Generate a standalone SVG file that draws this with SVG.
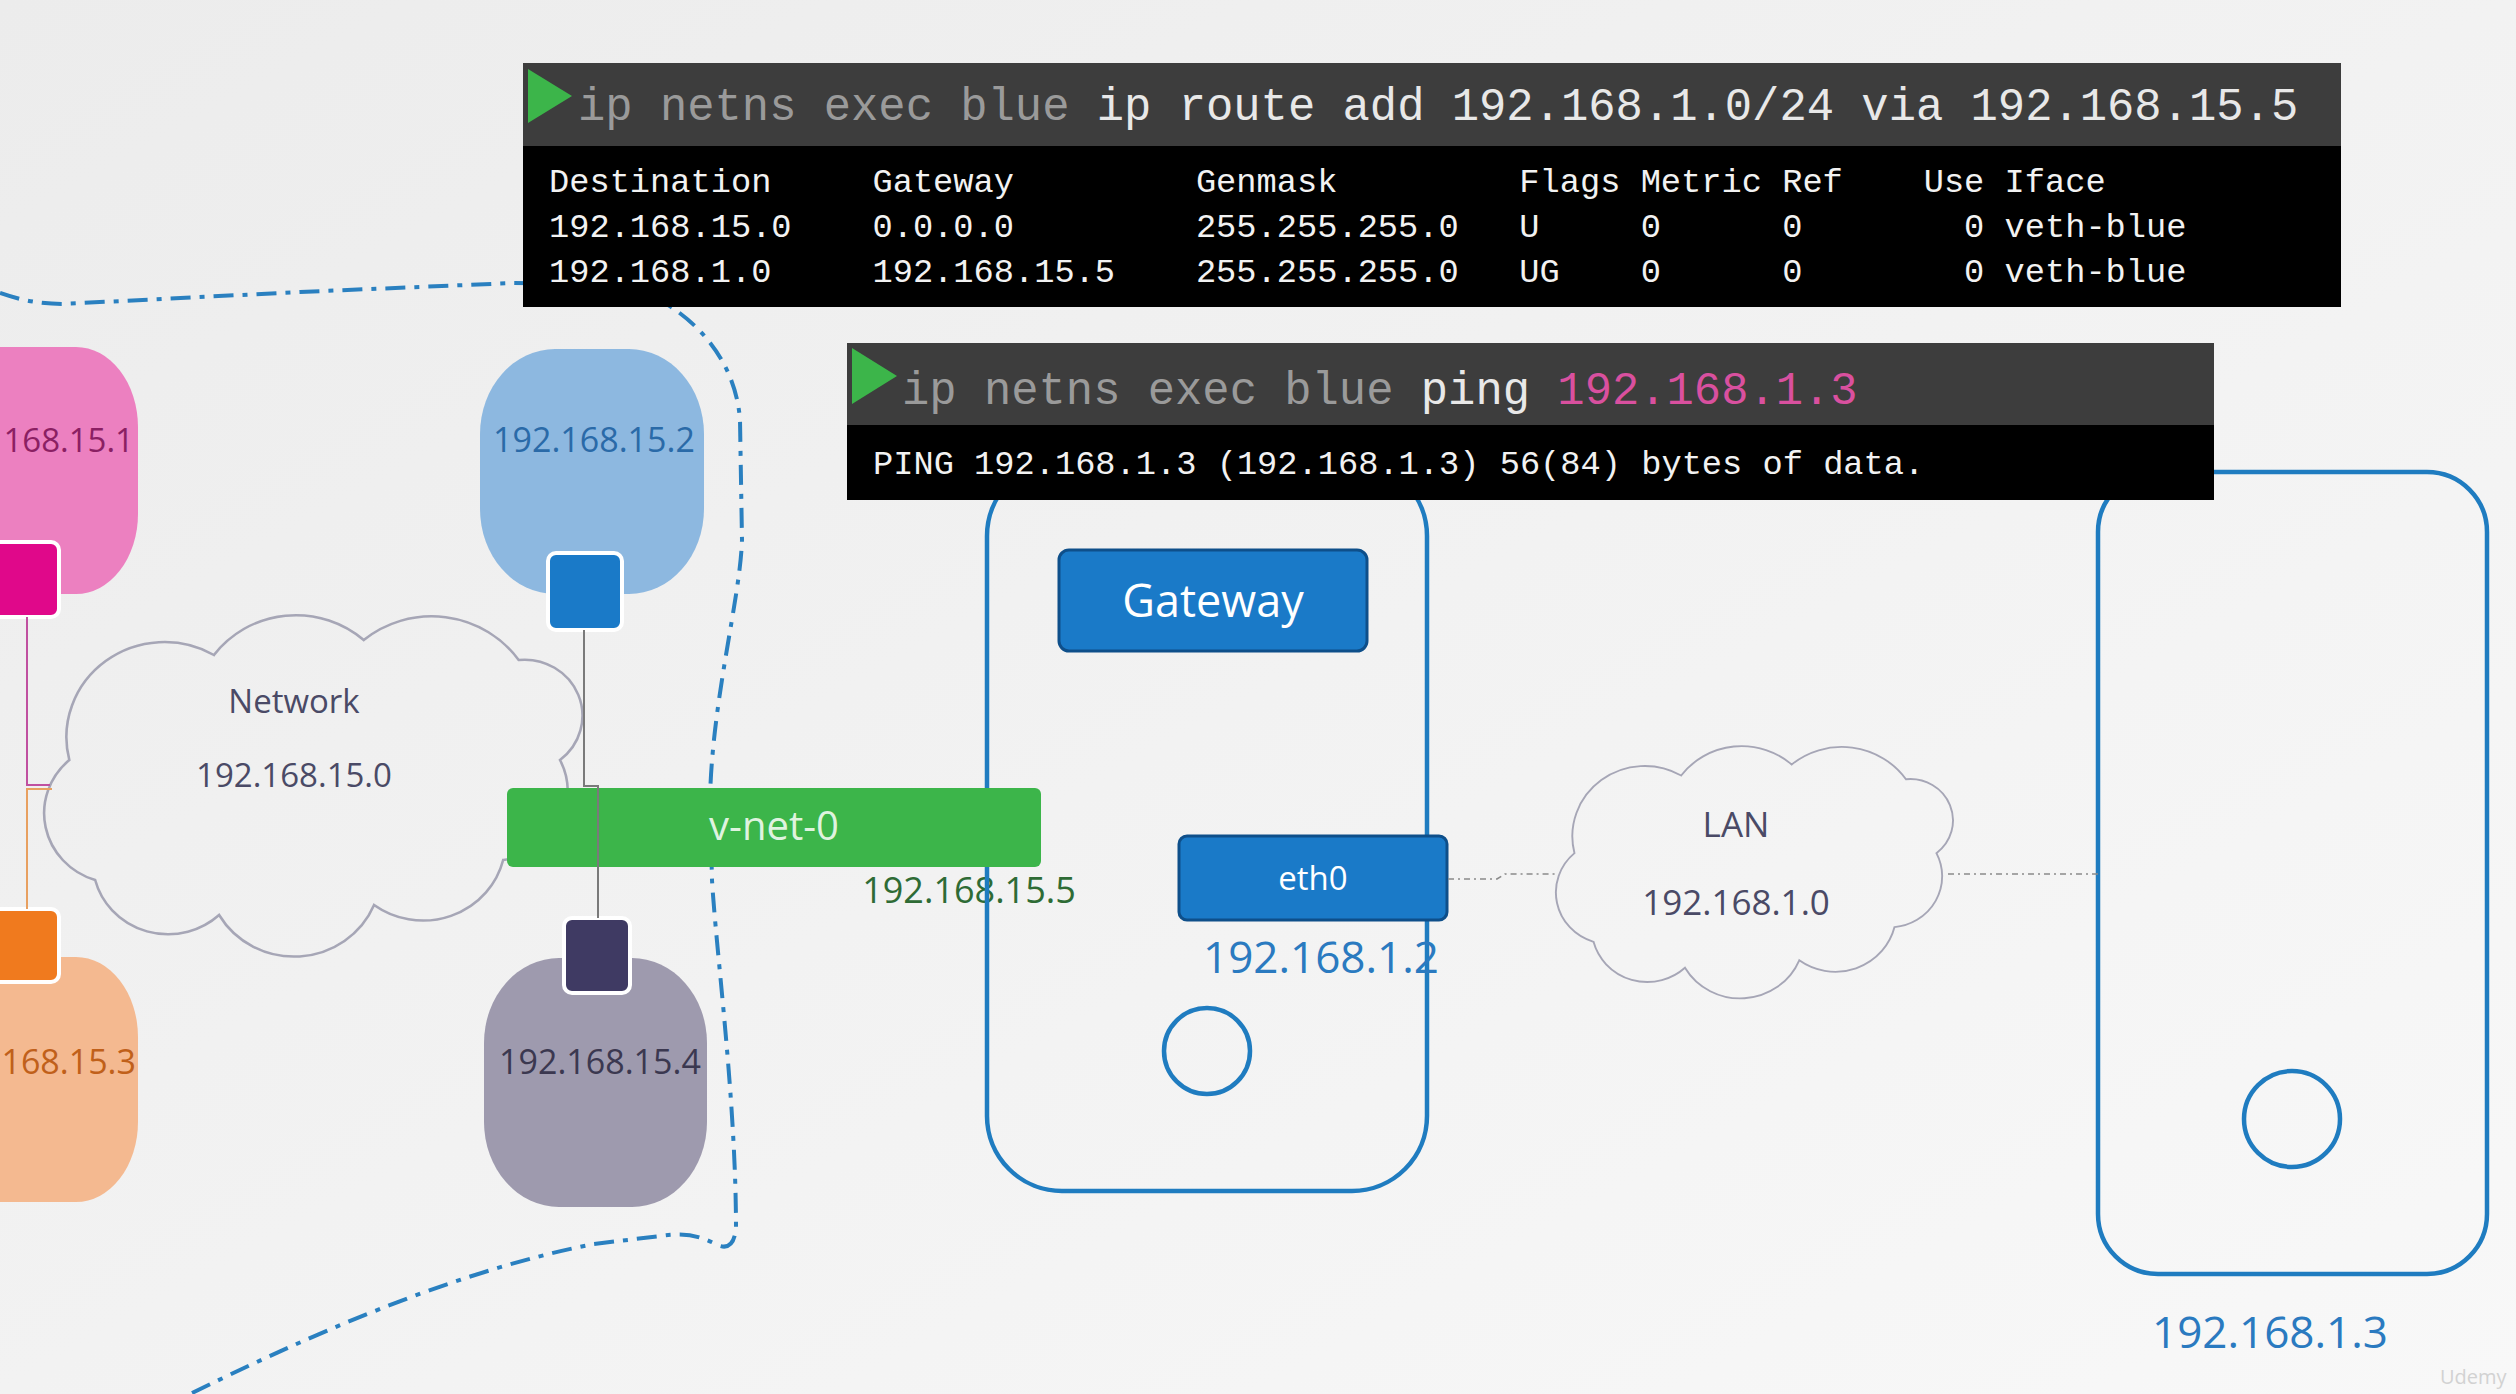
<svg xmlns="http://www.w3.org/2000/svg" width="2516" height="1394" viewBox="0 0 2516 1394">
<defs>
  <linearGradient id="bg" x1="0" y1="0" x2="1" y2="1">
    <stop offset="0" stop-color="#ececec"/>
    <stop offset="1" stop-color="#f8f8f8"/>
  </linearGradient>
  <path id="cloud" d="M 65 265 A 70 70 0 0 1 40 145 A 95 95 0 0 1 180 40 A 99 99 0 0 1 325 25 A 103 103 0 0 1 475 45 A 56 56 0 0 1 515 145 A 69 69 0 0 1 460 245 A 80 80 0 0 1 335 290 A 84 84 0 0 1 185 300 A 73 73 0 0 1 65 265 Z"/>
  <style>
    .lbl { font-family: "Open Sans", "Liberation Sans", sans-serif; }
    .mono { font-family: "Liberation Mono", "DejaVu Sans Mono", monospace; white-space: pre; }
    .cloudline { fill: none; stroke: #a6a6b6; stroke-width: 2.5; }
    .iface { stroke: #ffffff; stroke-width: 4; }
    .hostbox { fill: none; stroke: #1f7cc0; stroke-width: 4.5; }
    .btn { fill: #1a7ac8; stroke: #0e4f8a; stroke-width: 3; }
    .termhead { fill: #3d3d3d; }
    .termbody { fill: #000000; }
    .dim { fill: #9a9a9a; }
    .bright { fill: #e8e8e8; }
    .body { fill: #f2f2f2; font-size: 33.7px; }
  </style>
</defs>

<rect x="0" y="0" width="2516" height="1394" fill="url(#bg)"/>

<!-- namespace boundary (dash-dot) -->
<g id="boundary">
  <path d="M 0 293 C 20 300 40 304 62 304 L 300 292 L 513 283 L 620 284 C 680 300 735 350 740 420 L 742 540 C 740 600 712 700 710 800 L 712 880 C 716 950 736 1100 736 1228 Q 734 1250 720 1246 C 700 1236 688 1232 660 1236 L 594 1244 C 450 1272 300 1340 190 1394" fill="none" stroke="#2a80c0" stroke-width="4" stroke-dasharray="20 9 5 9"/>
</g>

<!-- pink namespace -->
<g id="node-pink">
  <rect x="-120" y="347" width="258" height="247" rx="62" ry="80" fill="#ec80c0"/>
  <text class="lbl" x="134" y="452" text-anchor="end" font-size="33" fill="#8b1f63">168.15.1</text>
  <rect class="iface" x="-8" y="542" width="67" height="75" rx="8" fill="#e0088a"/>
</g>

<!-- orange namespace -->
<g id="node-orange">
  <rect x="-120" y="957" width="258" height="245" rx="62" ry="80" fill="#f4b990"/>
  <text class="lbl" x="136" y="1074" text-anchor="end" font-size="34" fill="#c0601a">168.15.3</text>
  <rect class="iface" x="-8" y="909" width="67" height="73" rx="8" fill="#f07a1e"/>
</g>

<!-- blue namespace -->
<g id="node-blue">
  <rect x="480" y="349" width="224" height="245" rx="75" ry="85" fill="#8db8e0"/>
  <text class="lbl" x="594" y="452" text-anchor="middle" font-size="34" fill="#2a6aa8">192.168.15.2</text>
  <rect class="iface" x="548" y="553" width="74" height="77" rx="8" fill="#1a7ac8"/>
</g>

<!-- gray namespace -->
<g id="node-gray">
  <rect x="484" y="958" width="223" height="249" rx="75" ry="85" fill="#9e9aae"/>
  <text class="lbl" x="600" y="1074" text-anchor="middle" font-size="34" fill="#3b3850">192.168.15.4</text>
  <rect class="iface" x="564" y="918" width="66" height="75" rx="8" fill="#3f3a63"/>
</g>

<!-- Network cloud -->
<g id="cloud-network">
  <use href="#cloud" class="cloudline" transform="translate(28 615) scale(1.033 1)" vector-effect="non-scaling-stroke"/>
  <text class="lbl" x="294" y="713" text-anchor="middle" font-size="33" fill="#4a4a66">Network</text>
  <text class="lbl" x="294" y="787" text-anchor="middle" font-size="33" fill="#4a4a66">192.168.15.0</text>
</g>

<!-- v-net-0 address label -->
<g id="label-vnet-ip">
  <text class="lbl" x="969" y="903" text-anchor="middle" font-size="36" fill="#2e6b35">192.168.15.5</text>
</g>

<!-- Gateway host -->
<g id="node-gateway">
  <rect class="hostbox" x="987" y="461" width="440" height="730" rx="75" ry="75"/>
  <rect class="btn" x="1059" y="550" width="308" height="101" rx="10"/>
  <text class="lbl" x="1213" y="617" text-anchor="middle" font-size="45" fill="#ffffff">Gateway</text>
  <circle cx="1207" cy="1051" r="43" fill="none" stroke="#1f7cc0" stroke-width="4.5"/>
</g>

<g id="node-eth0">
  <rect class="btn" x="1179" y="836" width="268" height="84" rx="8"/>
  <text class="lbl" x="1313" y="890" text-anchor="middle" font-size="33" fill="#ffffff">eth0</text>
  <text class="lbl" x="1321" y="973" text-anchor="middle" font-size="44" fill="#2a7ac0">192.168.1.2</text>
</g>

<!-- v-net-0 bridge -->
<g id="node-vnet0">
  <rect x="507" y="788" width="534" height="79" rx="6" fill="#3cb54a"/>
  <text class="lbl" x="774" y="840" text-anchor="middle" font-size="40" fill="#dff3df">v-net-0</text>
</g>

<!-- LAN cloud -->
<g id="cloud-lan">
  <use href="#cloud" class="cloudline" transform="translate(1544 746) scale(0.762 0.739)" vector-effect="non-scaling-stroke"/>
  <text class="lbl" x="1736" y="837" text-anchor="middle" font-size="35" fill="#4a4a66">LAN</text>
  <text class="lbl" x="1736" y="915" text-anchor="middle" font-size="35" fill="#4a4a66">192.168.1.0</text>
</g>

<!-- LAN host -->
<g id="node-host">
  <rect class="hostbox" x="2098" y="472" width="389" height="802" rx="60" ry="60"/>
  <circle cx="2292" cy="1119" r="48" fill="none" stroke="#1f7cc0" stroke-width="4.5"/>
  <text class="lbl" x="2270" y="1348" text-anchor="middle" font-size="44" fill="#2a7ac0">192.168.1.3</text>
</g>

<!-- connectors -->
<g id="connectors" fill="none">
  <path d="M 27 617 L 27 785 L 50 785" stroke="#c050a0" stroke-width="2"/>
  <path d="M 27 909 L 27 789 L 52 789" stroke="#e8a060" stroke-width="2"/>
  <path d="M 584 630 L 584 786 L 598 786 L 598 918" stroke="#7a7a7a" stroke-width="2"/>
  <path d="M 1448 879 L 1497 879 L 1505 874 L 1557 874" stroke="#8a8a8a" stroke-width="1.6" stroke-dasharray="6 4 2 4"/>
  <path d="M 1948 874 L 2098 874" stroke="#8a8a8a" stroke-width="1.6" stroke-dasharray="6 4 2 4"/>
</g>

<!-- terminal 1 -->
<g id="terminal-route">
  <rect class="termhead" x="523" y="63" width="1818" height="83"/>
  <rect class="termbody" x="523" y="146" width="1818" height="161"/>
  <polygon points="528,69 528,123 572,96" fill="#3cb54a"/>
  <text class="mono" x="578" y="120" font-size="45.5"><tspan class="dim">ip netns exec blue </tspan><tspan class="bright">ip route add 192.168.1.0/24 via 192.168.15.5</tspan></text>
  <text class="mono body" x="549" y="192">Destination     Gateway         Genmask         Flags Metric Ref    Use Iface</text>
  <text class="mono body" x="549" y="237">192.168.15.0    0.0.0.0         255.255.255.0   U     0      0        0 veth-blue</text>
  <text class="mono body" x="549" y="282">192.168.1.0     192.168.15.5    255.255.255.0   UG    0      0        0 veth-blue</text>
</g>

<!-- terminal 2 -->
<g id="terminal-ping">
  <rect class="termhead" x="847" y="343" width="1367" height="82"/>
  <rect class="termbody" x="847" y="425" width="1367" height="75"/>
  <polygon points="852,348 852,404 897,376" fill="#3cb54a"/>
  <text class="mono" x="902" y="404" font-size="45.5"><tspan class="dim">ip netns exec blue </tspan><tspan class="bright">ping </tspan><tspan fill="#d9509f">192.168.1.3</tspan></text>
  <text class="mono body" x="873" y="474">PING 192.168.1.3 (192.168.1.3) 56(84) bytes of data.</text>
</g>

<text class="lbl" x="2440" y="1384" font-size="20" fill="#d2d2d2">Udemy</text>
</svg>
